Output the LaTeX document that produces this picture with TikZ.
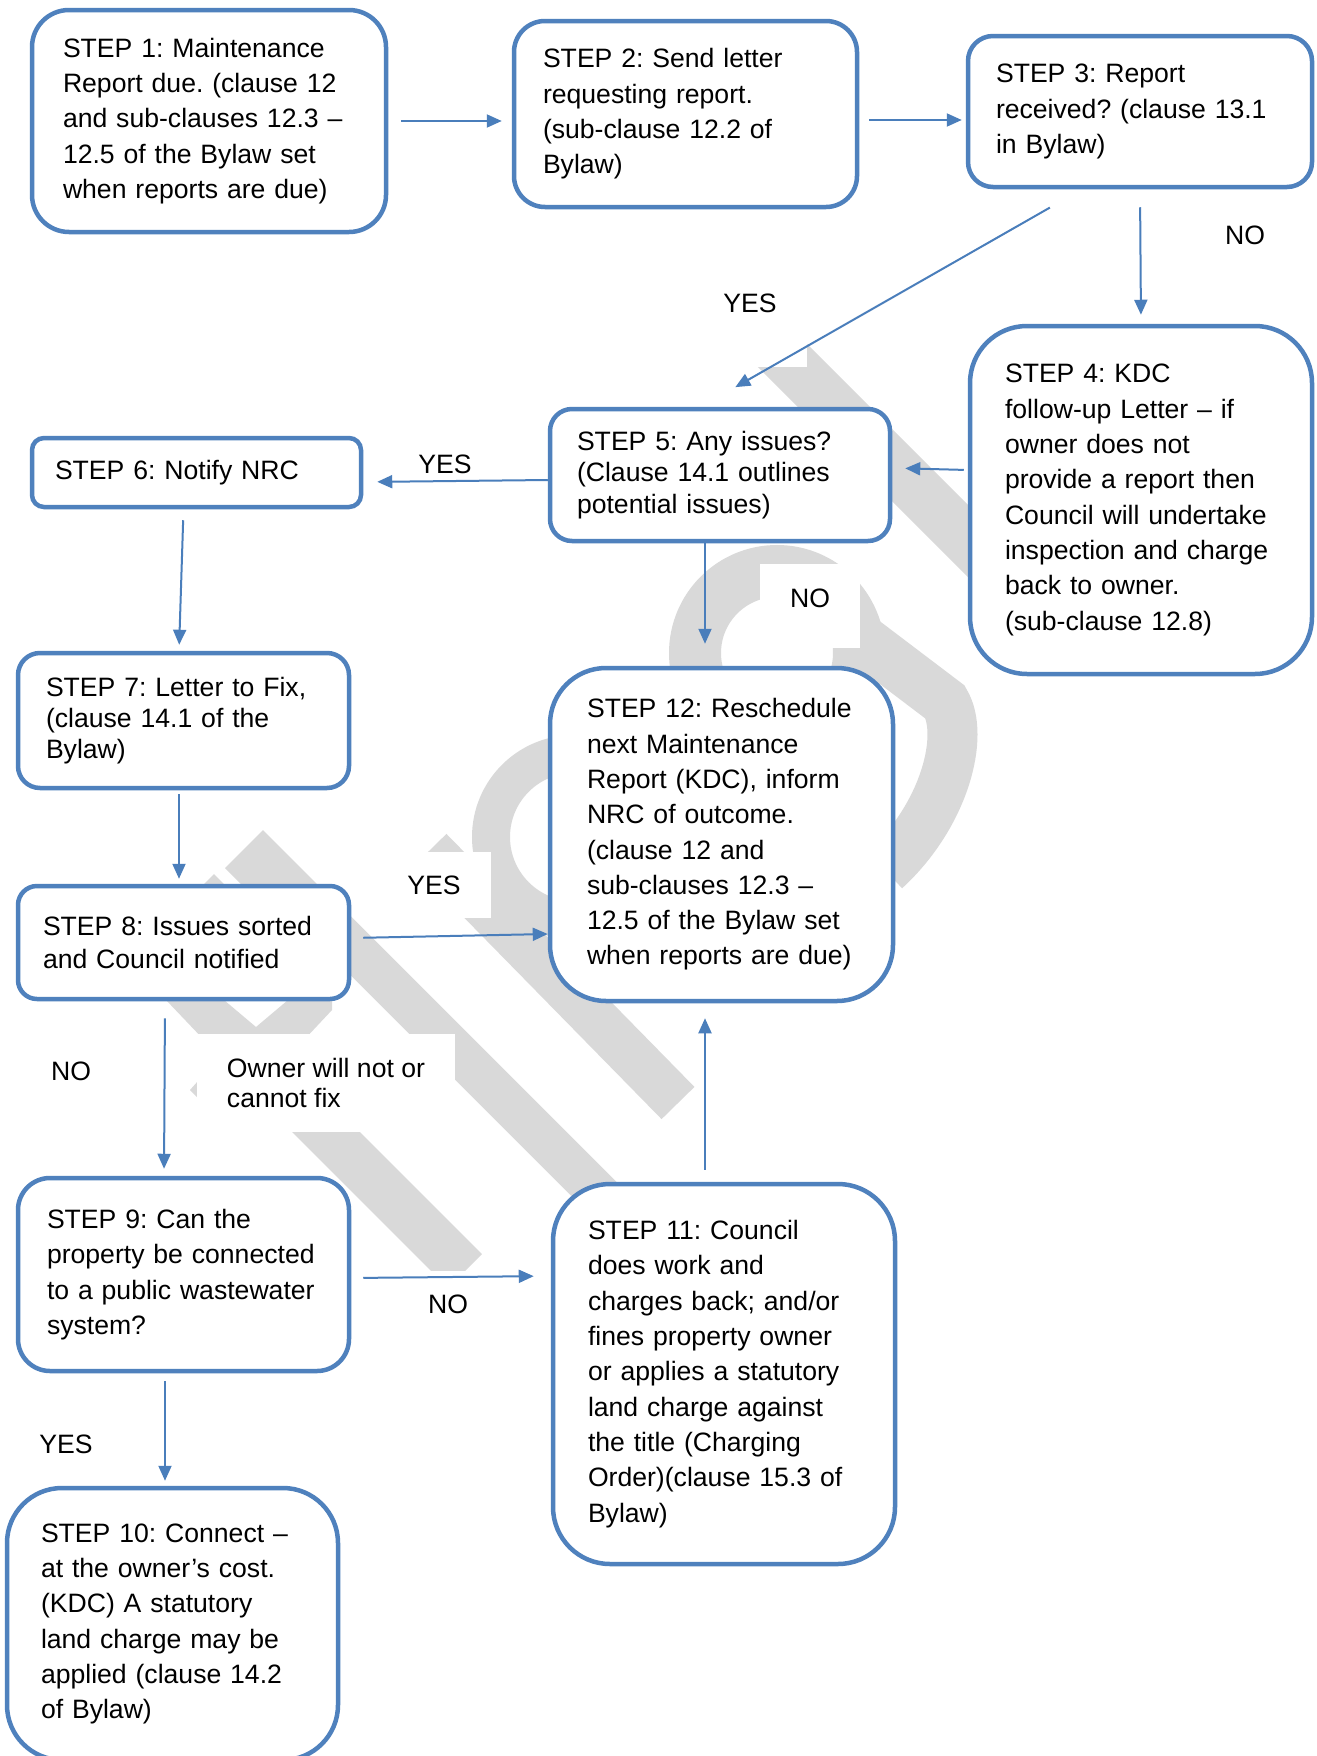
\documentclass[tikz,border=0pt]{standalone}
\usepackage{fontspec}
\setmainfont{Liberation Sans}
\usetikzlibrary{arrows.meta}
\definecolor{boxblue}{HTML}{4F81BD}
\definecolor{lineblue}{HTML}{4A7EBB}
\definecolor{markgrey}{HTML}{D9D9D9}
\newcommand{\stepfont}[1][35.3]{\fontsize{26.6}{#1}\selectfont\frenchspacing\hyphenpenalty=10000\relax}

\begin{document}
\begin{tikzpicture}[x=1pt,y=1pt,
  stepbox/.style={draw=boxblue, line width=4.5pt, fill=white, align=left, inner ysep=0pt, font=\stepfont},
  lbl/.style={fill=white, inner xsep=30pt, inner ysep=24pt, font=\stepfont},
  flow/.style={draw=lineblue, line width=2pt, -{Triangle[length=15pt,width=13pt]}},
  wmark/.style={draw=markgrey, fill=markgrey}]
\path[use as bounding box, fill=white] (0,0) rectangle (1317,-1756);

\begin{scope}[wmark]
\draw[line width=51pt] (722,-295) -- (1000,-573);
\draw[line width=52pt, fill=none] (777,-653) circle[radius=82];
\draw[line width=50pt, fill=none] (850,-630) -- (945,-702) .. controls (965,-735) and (945,-815) .. (885,-870);
\draw[line width=38pt, fill=none] (574,-837) circle[radius=83];
\draw[line width=46pt] (430,-850) -- (678,-1103);
\draw[line width=42pt] (330,-925) -- (640,-1235);
\draw[line width=48pt] (300,-1106) -- (465,-1271);
\fill (225,-868) -- (263,-830) -- (319,-886) -- (243,-886) -- cycle;
\fill (202,-886) -- (214,-874) -- (226,-886) -- cycle;
\fill (166,-1000) -- (224,-1000) -- (256,-1027) -- (288,-1000) -- (332,-1000) -- (332,-1010) -- (302,-1042) -- (206,-1042) -- cycle;
\fill (206,-1072) -- (190,-1090) -- (206,-1106) -- cycle;
\end{scope}

\node[lbl] (no34) at (1245,-235) {NO};
\node[lbl, text depth=30pt, anchor=base] (yes35) at (750,-312.5) {YES};
\node[lbl] (yes56) at (445,-464) {YES};
\node[lbl, text depth=17pt, anchor=base] (no512) at (810,-607) {NO};
\node[lbl] (yes812) at (434,-885) {YES};
\node[lbl] (no89) at (71,-1071) {NO};
\node[lbl, align=left, font={\stepfont[30]}] (owner) at (326,-1083) {Owner will not or\\cannot fix};
\node[lbl] (no911) at (448,-1304) {NO};
\node[lbl] (yes910) at (66,-1444) {YES};

\node[stepbox, rounded corners=37pt, text width=292pt, inner xsep=31pt, minimum height=222pt] (s1) at (209,-121)
  {STEP 1: Maintenance\\Report due. (clause 12\\and sub-clauses 12.3 --\\12.5 of the Bylaw set\\when reports are due)};
\node[stepbox, rounded corners=31pt, text width=285pt, inner xsep=29pt, minimum height=186pt] (s2) at (685.5,-114)
  {STEP 2: Send letter\\requesting report.\\(sub-clause 12.2 of\\Bylaw)};
\node[stepbox, rounded corners=25pt, text width=288pt, inner xsep=28pt, minimum height=151pt] (s3) at (1140,-111.5)
  {STEP 3: Report\\received? (clause 13.1\\in Bylaw)};
\node[stepbox, rounded corners=57pt, text width=272pt, inner xsep=35pt, minimum height=348pt] (s4) at (1141,-500)
  {STEP 4: KDC\\follow-up Letter -- if\\owner does not\\provide a report then\\Council will undertake\\inspection and charge\\back to owner.\\(sub-clause 12.8)};
\node[stepbox, rounded corners=22pt, text width=286pt, inner xsep=27pt, minimum height=132pt, font={\stepfont[31.4]}] (s5) at (720,-475)
  {STEP 5: Any issues?\\(Clause 14.1 outlines\\potential issues)};
\node[stepbox, rounded corners=12pt, text width=283pt, inner xsep=23pt, minimum height=69pt] (s6) at (196.5,-472.5)
  {STEP 6: Notify NRC};
\node[stepbox, rounded corners=22pt, text width=275pt, inner xsep=28pt, minimum height=135pt, font={\stepfont[30.8]}] (s7) at (183.5,-720.5)
  {STEP 7: Letter to Fix,\\(clause 14.1 of the\\Bylaw)};
\node[stepbox, rounded corners=19pt, text width=281pt, inner xsep=25pt, minimum height=113pt, font={\stepfont[33.6]}] (s8) at (183.5,-942.5)
  {STEP 8: Issues sorted\\and Council notified};
\node[stepbox, rounded corners=32pt, text width=273pt, inner xsep=29pt, minimum height=193pt] (s9) at (183.5,-1274.5)
  {STEP 9: Can the\\property be connected\\to a public wastewater\\system?};
\node[stepbox, rounded corners=55pt, text width=263pt, inner xsep=34pt, minimum height=272pt] (s10) at (172.5,-1624)
  {STEP 10: Connect --\\at the owner’s cost.\\(KDC) A statutory\\land charge may be\\applied (clause 14.2\\of Bylaw)};
\node[stepbox, rounded corners=57pt, text width=272pt, inner xsep=35pt, minimum height=380pt] (s11) at (724,-1374)
  {STEP 11: Council\\does work and\\charges back; and/or\\fines property owner\\or applies a statutory\\land charge against\\the title (Charging\\Order)(clause 15.3 of\\Bylaw)};
\node[stepbox, rounded corners=56pt, text width=269pt, inner xsep=37pt, minimum height=333pt] (s12) at (721.5,-834.5)
  {STEP 12: Reschedule\\next Maintenance\\Report (KDC), inform\\NRC of outcome.\\(clause 12 and\\sub-clauses 12.3 --\\12.5 of the Bylaw set\\when reports are due)};

\draw[flow, shorten <=13pt, shorten >=10pt] (s1.east) -- (s1.east -| s2.west);
\draw[flow, shorten <=10pt, shorten >=4pt] ([yshift=-6pt]s2.east) -- ([yshift=-6pt]s2.east -| s3.west);
\draw[flow, shorten <=37pt, shorten >=39.5pt] ([xshift=-58pt]s3.south) -- ([xshift=-19pt]s5.north);
\draw[flow, shorten <=18pt, shorten >=9pt] (s3.south) -- (s4.north);
\draw[flow, shorten <=4pt, shorten >=13pt] ([yshift=30pt]s4.west) -- ([yshift=7pt]s5.east);
\draw[flow, shorten >=14pt] ([yshift=-5pt]s5.west) -- ([yshift=-9.5pt]s6.east);
\draw[flow, shorten <=11pt, shorten >=6pt] ([xshift=-13pt]s6.south) -- ([xshift=-4.5pt]s7.north);
\draw[flow, shorten <=4pt, shorten >=5pt] ([xshift=-4.5pt]s7.south) -- ([xshift=-4.5pt]s8.north);
\draw[flow, shorten <=12pt] ([yshift=4.5pt]s8.east) -- ([yshift=-99.5pt]s12.west);
\draw[flow, shorten <=17pt, shorten >=7pt] ([xshift=-18.5pt]s8.south) -- ([xshift=-19.5pt]s9.north);
\draw[flow, shorten <=12pt, shorten >=17pt] ([yshift=-3.5pt]s9.east) -- ([yshift=98pt]s11.west);
\draw[flow, shorten <=8pt, shorten >=5pt] ([xshift=-18.5pt]s9.south) -- ([xshift=-7.5pt]s10.north);
\draw[flow, shorten <=12pt, shorten >=15pt] ([xshift=-19pt]s11.north) -- ([xshift=-16.5pt]s12.south);
\draw[flow, shorten >=22pt] ([xshift=-15pt]s5.south) -- ([xshift=-16.5pt]s12.north);
\end{tikzpicture}
\end{document}
